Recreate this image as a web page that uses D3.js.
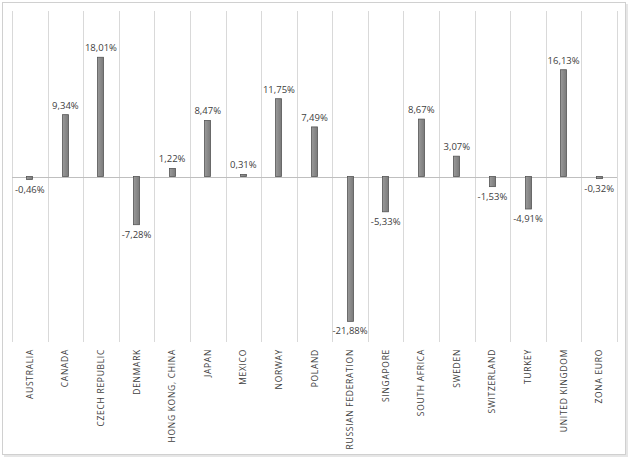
<!DOCTYPE html>
<html>
<head>
<meta charset="utf-8">
<script src="https://cdn.jsdelivr.net/npm/d3@7"></script>
<style>
  body { margin: 0; background: #fff; }
  text { font-family: "Open Sans", sans-serif; fill: #404040; }
</style>
</head>
<body>
<div id="chart"></div>
<script>
// data
var countries = ["AUSTRALIA", "CANADA", "CZECH REPUBLIC", "DENMARK", "HONG KONG, CHINA",
  "JAPAN", "MEXICO", "NORWAY", "POLAND", "RUSSIAN FEDERATION", "SINGAPORE",
  "SOUTH AFRICA", "SWEDEN", "SWITZERLAND", "TURKEY", "UNITED KINGDOM", "ZONA EURO"];
var returns = [-0.46, 9.34, 18.01, -7.28, 1.22, 8.47, 0.31, 11.75, 7.49, -21.88,
  -5.33, 8.67, 3.07, -1.53, -4.91, 16.13, -0.32];
var yDomain = [-25, 25];

var W = 630, H = 460;
var margin = {top: 11, right: 13, bottom: 118, left: 12};
var width = W - margin.left - margin.right,
    height = H - margin.top - margin.bottom;

var svg = d3.select("#chart")
  .append("svg")
    .attr("width", W)
    .attr("height", H);

// frame with a light shadow
svg.append("rect")
  .attr("x", 4).attr("y", 4)
  .attr("width", W - 6).attr("height", H - 7)
  .attr("fill", "#e6e6e6");
svg.append("rect")
  .attr("x", 2.5).attr("y", 2.5)
  .attr("width", W - 7).attr("height", H - 8)
  .attr("fill", "#fff")
  .attr("stroke", "#d0d0d0");

var g = svg.append("g")
  .attr("transform", "translate(" + margin.left + "," + margin.top + ")");

var x = d3.scaleBand()
  .domain(countries)
  .range([0, width]);

var y = d3.scaleLinear()
  .domain(yDomain)
  .range([height, 0]);

// vertical grid lines between categories
g.append("g")
  .selectAll("line")
  .data(d3.range(countries.length + 1))
  .enter()
  .append("line")
    .attr("x1", function(i) { return Math.round(i * x.step()) + 0.5; })
    .attr("x2", function(i) { return Math.round(i * x.step()) + 0.5; })
    .attr("y1", 0)
    .attr("y2", height)
    .attr("stroke", "#d9d9d9");

// zero line
g.append("line")
  .attr("x1", 0).attr("x2", width)
  .attr("y1", Math.round(y(0)) + 0.5)
  .attr("y2", Math.round(y(0)) + 0.5)
  .attr("stroke", "#bfbfbf");

var barW = 7;
var grad = svg.append("defs").append("linearGradient")
  .attr("id", "barGrad")
  .attr("x1", "0%").attr("x2", "100%");
grad.append("stop").attr("offset", "0%").attr("stop-color", "#9a9a9a");
grad.append("stop").attr("offset", "50%").attr("stop-color", "#8a8a8a");
grad.append("stop").attr("offset", "100%").attr("stop-color", "#7a7a7a");

g.append("g")
  .selectAll("rect")
  .data(returns)
  .enter()
  .append("rect")
    .attr("x", function(d, i) { return Math.round(x(countries[i]) + x.bandwidth() / 2 - barW / 2) + 0.5; })
    .attr("y", function(d) { return y(Math.max(0, d)); })
    .attr("width", barW - 1)
    .attr("height", function(d) { return Math.max(1.5, Math.abs(y(d) - y(0))); })
    .attr("fill", "url(#barGrad)")
    .attr("stroke", "#555")
    .attr("stroke-width", 0.8);

// value labels
g.append("g")
  .selectAll("text")
  .data(returns)
  .enter()
  .append("text")
    .attr("x", function(d, i) { return x(countries[i]) + x.bandwidth() / 2; })
    .attr("y", function(d) { return d >= 0 ? y(d) - 6 : Math.max(y(d), y(0) + 2) + 13; })
    .attr("text-anchor", "middle")
    .attr("font-size", "9.5px")
    .text(function(d) { return d.toFixed(2).replace(".", ",") + "%"; });

// category labels, rotated
g.append("g")
  .selectAll("text")
  .data(countries)
  .enter()
  .append("text")
    .attr("transform", function(d) {
      return "translate(" + (x(d) + x.bandwidth() / 2 + 3) + "," + (height + 7) + ") rotate(-90)";
    })
    .attr("text-anchor", "end")
    .attr("font-size", "8.5px")
    .attr("letter-spacing", "0.7px")
    .text(function(d) { return d; });
</script>
</body>
</html>
